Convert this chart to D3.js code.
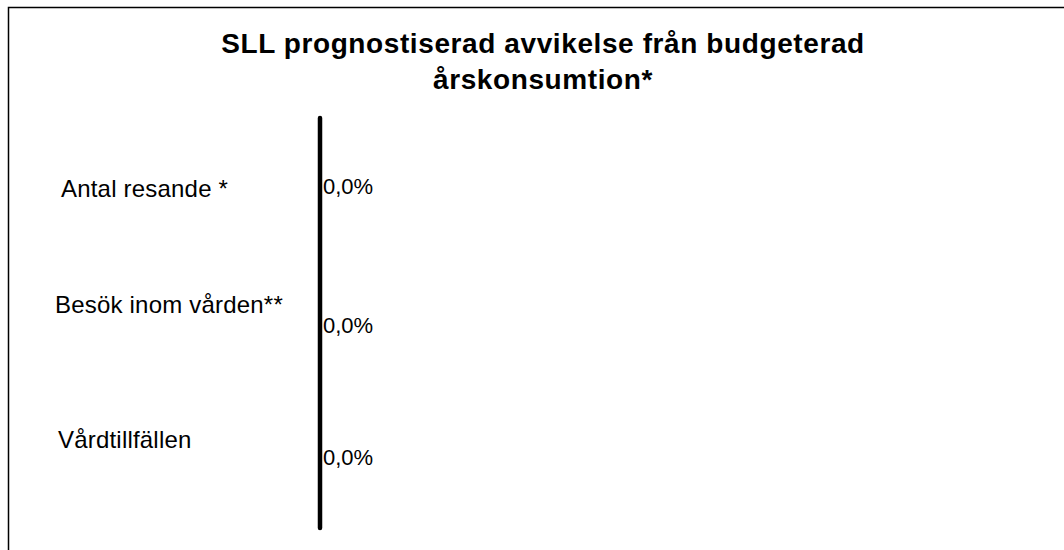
<!DOCTYPE html>
<html>
<head>
<meta charset="utf-8">
<script src="https://cdn.jsdelivr.net/npm/d3@7"></script>
<style>
  body { margin: 0; background: #fff; }
  svg { display: block; }
  text { font-family: "Liberation Sans", Arial, sans-serif; fill: #000; }
</style>
</head>
<body>
<script>
const titleLines = ['SLL prognostiserad avvikelse från budgeterad', 'årskonsumtion*']
const categories = ['Antal resande *', 'Besök inom vården**', 'Vårdtillfällen']
const values = [0.0, 0.0, 0.0]
const valueLabels = ['0,0%', '0,0%', '0,0%']

const w = 1064
const h = 550

const svg = d3.select('body')
  .append('svg')
  .attr('width', w)
  .attr('height', h)

// frame (right and bottom edges fall outside the picture)
svg.append('rect')
  .attr('x', 8.5)
  .attr('y', 7.5)
  .attr('width', 1080)
  .attr('height', 560)
  .attr('fill', 'none')
  .attr('stroke', '#000')
  .attr('stroke-width', 1.5)

svg.append('g')
  .selectAll('text')
  .data(titleLines)
  .enter()
  .append('text')
  .attr('x', 543)
  .attr('y', (d, i) => 53 + i * 36)
  .attr('text-anchor', 'middle')
  .attr('font-size', 28)
  .attr('font-weight', 'bold')
  .attr('letter-spacing', 0.6)
  .text(d => d)

const xScale = d3.scaleLinear()
  .domain([0, 1])
  .range([320, 1000])

const yScale = d3.scaleBand()
  .domain(categories)
  .range([118, 528])

// bars (all zero)
svg.selectAll('rect.bar')
  .data(values)
  .enter()
  .append('rect')
  .attr('class', 'bar')
  .attr('x', d => Math.min(xScale(0), xScale(d)))
  .attr('y', (d, i) => yScale(categories[i]) + yScale.bandwidth() * 0.25)
  .attr('width', d => Math.abs(xScale(d) - xScale(0)))
  .attr('height', yScale.bandwidth() * 0.5)
  .attr('fill', '#000')

// zero axis line
svg.append('line')
  .attr('x1', xScale(0))
  .attr('x2', xScale(0))
  .attr('y1', yScale.range()[0])
  .attr('y2', yScale.range()[1])
  .attr('stroke', '#000')
  .attr('stroke-width', 4.5)
  .attr('stroke-linecap', 'round')

// category labels
const labelShift = [2, -18, -20]
const labelX = [61, 55, 58]
svg.selectAll('text.cat')
  .data(categories)
  .enter()
  .append('text')
  .attr('class', 'cat')
  .attr('x', (d, i) => labelX[i])
  .attr('y', (d, i) => yScale(d) + yScale.bandwidth() / 2 + labelShift[i])
  .attr('dy', '0.35em')
  .attr('font-size', 24)
  .attr('letter-spacing', 0.2)
  .text(d => d)

// value labels
const valueShift = [0, 2, -2]
svg.selectAll('text.val')
  .data(values)
  .enter()
  .append('text')
  .attr('class', 'val')
  .attr('x', d => xScale(d) + 3)
  .attr('y', (d, i) => yScale(categories[i]) + yScale.bandwidth() / 2 + valueShift[i])
  .attr('dy', '0.35em')
  .attr('font-size', 22)
  .text((d, i) => valueLabels[i])
</script>
</body>
</html>
